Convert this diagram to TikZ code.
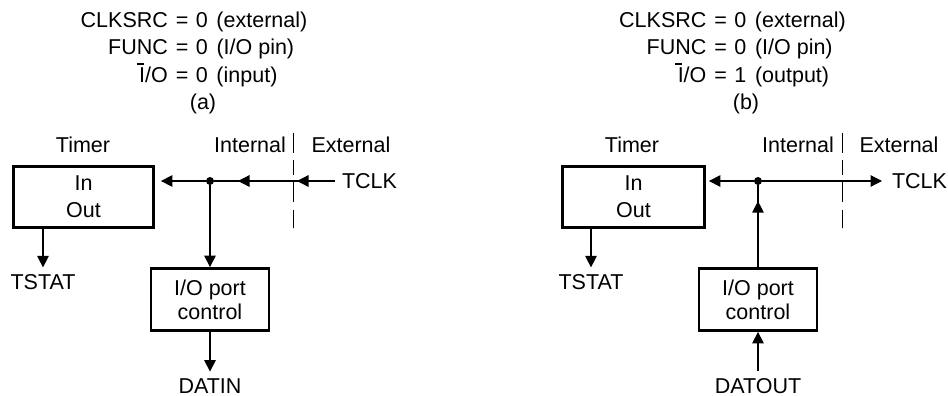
\documentclass[tikz,border=0pt]{standalone}
\usepackage{fontspec}
\setmainfont{Liberation Sans}
\usepackage{tikz}
\usetikzlibrary{arrows.meta,positioning,decorations.markings}
\newcommand\notI{\makebox[0pt][l]{\hspace{-0.12em}\raisebox{0.8em}{\rule{0.33em}{0.09em}}}I}
\tikzset{tri/.tip={Triangle[length=11.5pt,width=11.5pt]}, block/.style={draw,line width=2.8pt,align=center,inner sep=0pt}, wire/.style={line width=1.3pt}, sig/.style={wire,-tri}, tipat/.style={decoration={markings,mark=at position #1 with {\arrow{tri}}},postaction={decorate}}, pin/.style={inner sep=0pt,outer sep=7pt}, side/.style={inner sep=0pt}, border/.style={line width=1pt,dash pattern=on 20pt off 7pt on 15pt off 5pt on 22pt off 8pt on 18pt off 0pt}, junction/.style={circle,fill,inner sep=0pt,minimum size=8pt}, modes/.style={inner sep=0pt,anchor=base west}}

\begin{document}
\begin{tikzpicture}[x=1pt,y=-1pt,font=\fontsize{21.5}{27}\selectfont]
\useasboundingbox (0,0) rectangle (948,396);
\node[modes] (modeA) at (80.5,28) {\begin{tabular}[t]{@{}r@{\hspace{0.37em}=\hspace{0.35em}}l@{\hspace{0.4em}}l@{}}CLKSRC & 0 & (external)\\ FUNC & 0 & (I/O pin)\\ \notI/O & 0 & (input)\end{tabular}};
\node[side] (capA) at (203,104) {(a)};
\node[side] (timerlabA) at (83,145) {Timer};
\node[side] (intA) at (250,145) {Internal};
\node[side] (extA) at (351,145) {External};
\node[block,minimum width=140pt,minimum height=61pt] (timerA) at (83.5,197) {In\\Out};
\node[block,minimum width=118pt,minimum height=62pt,font=\fontsize{21.5}{24}\selectfont] (ioA) at (210,299.5) {I/O port\\control};
\node[junction] (dotA) at (210,181) {};
\node[pin,anchor=west] (tclkA) at (335,181) {TCLK};
\node[pin] (tstatA) at (43,282) {TSTAT};
\node[pin] (datinA) at (210,386) {DATIN};
\draw[border] (293,133) -- (293,228);
\draw[wire,decoration={markings,mark=at position 38pt with {\arrow{tri}},mark=at position 97pt with {\arrow{tri}}},postaction={decorate}] (tclkA) -- (dotA);
\draw[sig,shorten >=6pt] (dotA) -- (dotA -| timerA.east);
\draw[sig] (dotA) -- (dotA |- ioA.north);
\draw[sig] (ioA) -- (datinA);
\draw[sig] (tstatA |- timerA.south) -- (tstatA);

\node[modes] (modeB) at (619,28) {\begin{tabular}[t]{@{}r@{\hspace{0.37em}=\hspace{0.35em}}l@{\hspace{0.4em}}l@{}}CLKSRC & 0 & (external)\\ FUNC & 0 & (I/O pin)\\ \notI/O & 1 & (output)\end{tabular}};
\node[side] (capB) at (746,104) {(b)};
\node[side] (timerlabB) at (632,145) {Timer};
\node[side] (intB) at (798,145) {Internal};
\node[side] (extB) at (899,145) {External};
\node[block,minimum width=142pt,minimum height=61pt] (timerB) at (633.5,197) {In\\Out};
\node[block,minimum width=118pt,minimum height=62pt,font=\fontsize{21.5}{24}\selectfont] (ioB) at (758,299.5) {I/O port\\control};
\node[junction] (dotB) at (758,181) {};
\node[pin,anchor=west] (tclkB) at (885,181) {TCLK};
\node[pin] (tstatB) at (591,282) {TSTAT};
\node[pin] (datoutB) at (758,386) {DATOUT};
\draw[border] (842,133) -- (842,228);
\draw[sig,shorten >=3pt] (dotB) -- (dotB -| timerB.east);
\draw[sig,shorten >=3pt] (dotB) -- (tclkB);
\draw[wire,tipat=66pt] (ioB) -- (dotB);
\draw[sig] (datoutB) -- (ioB);
\draw[sig] (tstatB |- timerB.south) -- (tstatB);
\end{tikzpicture}
\end{document}
